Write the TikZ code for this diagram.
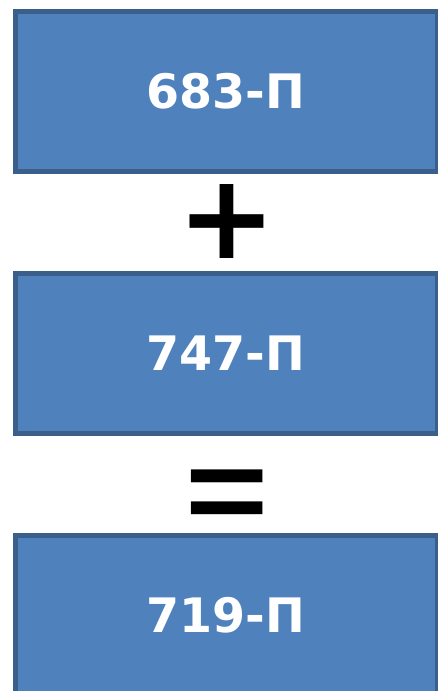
\documentclass[tikz,border=0pt]{standalone}
\usepackage{graphicx}
\usepackage{fontspec}
\setmainfont{DejaVu Sans}
\newfontfamily\signfont{Liberation Sans}
\usetikzlibrary{positioning}
\definecolor{boxblue}{RGB}{79,129,189}
\definecolor{boxedge}{RGB}{58,95,139}

\begin{document}
\begin{tikzpicture}[x=1pt, y=1pt,
      node distance=102pt,
      numbox/.style={rectangle, draw=boxedge, line width=5pt, fill=boxblue,
                     minimum width=422pt, minimum height=160pt, inner sep=0pt,
                     outer sep=0pt, text=white,
                     font=\fontsize{47.5}{56}\selectfont\bfseries},
      sign/.style={inner sep=0pt, font=\fontsize{118}{120}\selectfont\bfseries}
    ]
    \useasboundingbox (0,0) rectangle (437,-691);
    % --- the three numbers ---
    \node[numbox] (first) at (226,-91.5) {683-П};
    \node[numbox, below=of first] (second) {747-П};
    \node[numbox, below=of second] (result) {719-П};

    % --- signs between them ---
    \node[sign] (plus) at (226.5,-221.5) {+};
    \node[sign, font=\signfont\fontsize{150}{150}\selectfont\bfseries]
      (equals) at (227,-500.5) {\scalebox{0.95}[0.79]{=}};
  \end{tikzpicture}
\end{document}
